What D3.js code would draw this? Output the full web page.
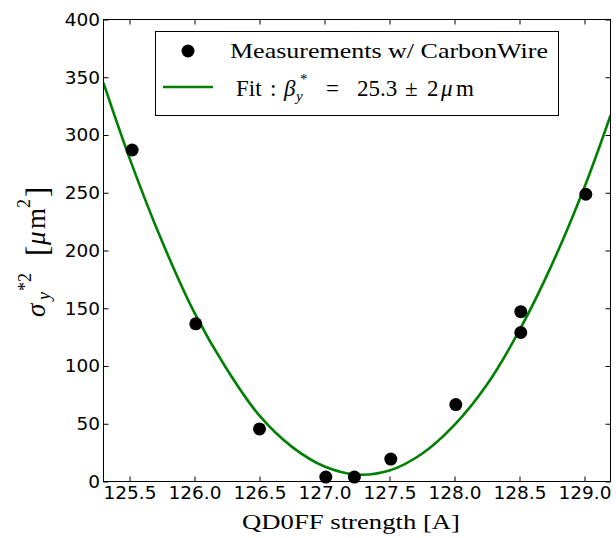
<!DOCTYPE html>
<html>
<head>
<meta charset="utf-8">
<script src="https://cdn.jsdelivr.net/npm/d3@7/dist/d3.min.js"></script>
<style>
  html, body { margin: 0; padding: 0; background: #fff; }
  svg { display: block; }
  text { white-space: pre; }
</style>
</head>
<body>
<svg id="chart" width="616" height="538"></svg>
<script>
// ---- data ----
const measX = [125.52, 126.01, 126.50, 127.01, 127.23, 127.51, 128.01, 128.51, 128.51, 129.01];
const measY = [287, 136.5, 45.5, 3.8, 3.8, 19.4, 66.6, 147, 129, 248.7];

const fitX = [125.3, 125.5, 125.75, 126.0, 126.25, 126.5, 126.75, 127.0, 127.25, 127.5, 127.75, 128.0, 128.25, 128.5, 128.75, 129.0, 129.2];
const fitY = [345, 280, 208, 146, 97, 57, 30, 13, 6, 9.5, 24, 49, 84, 131, 188, 255, 317];

const xTicks = [125.5, 126.0, 126.5, 127.0, 127.5, 128.0, 128.5, 129.0];
const xTickLabels = ["125.5", "126.0", "126.5", "127.0", "127.5", "128.0", "128.5", "129.0"];
const yTicks = [0, 50, 100, 150, 200, 250, 300, 350, 400];
const yTickLabels = ["0", "50", "100", "150", "200", "250", "300", "350", "400"];

const xDomain = [125.3, 129.2];
const yDomain = [0, 400];

// ---- layout ----
const svg = d3.select("#chart");
const X0 = 103.5, X1 = 610.5, Y0 = 19.5, Y1 = 481.5;
const x = d3.scaleLinear().domain(xDomain).range([X0, X1]);
const y = d3.scaleLinear().domain(yDomain).range([Y1, Y0]);

const serif = "'Liberation Serif', 'Times New Roman', serif";
const sans = "'DejaVu Sans', sans-serif";

svg.append("defs").append("clipPath").attr("id", "clip")
  .append("rect").attr("x", X0).attr("y", Y0).attr("width", X1 - X0).attr("height", Y1 - Y0);

// fit curve
const line = d3.line().x((d, i) => x(fitX[i])).y((d, i) => y(fitY[i])).curve(d3.curveCatmullRom.alpha(0.5));
svg.append("path")
  .attr("clip-path", "url(#clip)")
  .attr("d", line(fitX))
  .attr("fill", "none")
  .attr("stroke", "#008000")
  .attr("stroke-width", 2.6);

// measurements
svg.append("g").selectAll("circle").data(measX).join("circle")
  .attr("cx", (d, i) => x(measX[i]))
  .attr("cy", (d, i) => y(measY[i]))
  .attr("r", 6.5)
  .attr("fill", "#000");

// axes
function styleAxis(g, showLabels) {
  g.select(".domain").remove();
  g.selectAll(".tick line").attr("stroke", "#000").attr("stroke-width", 1);
  g.selectAll(".tick text")
    .attr("font-family", sans).attr("font-size", 18.5).attr("fill", "#000");
  if (!showLabels) g.selectAll(".tick text").remove();
}
const fmtX = d => xTickLabels[xTicks.indexOf(d)];
const fmtY = d => yTickLabels[yTicks.indexOf(d)];

svg.append("g").attr("transform", `translate(0,${Y1})`)
  .call(d3.axisBottom(x).tickValues(xTicks).tickFormat(fmtX).tickSize(-5).tickPadding(4))
  .call(g => styleAxis(g, true));
svg.append("g").attr("transform", `translate(0,${Y0})`)
  .call(d3.axisTop(x).tickValues(xTicks).tickSize(-5))
  .call(g => styleAxis(g, false));
svg.append("g").attr("transform", `translate(${X0},0)`)
  .call(d3.axisLeft(y).tickValues(yTicks).tickFormat(fmtY).tickSize(-5).tickPadding(3.5))
  .call(g => styleAxis(g, true));
svg.append("g").attr("transform", `translate(${X1},0)`)
  .call(d3.axisRight(y).tickValues(yTicks).tickSize(-5))
  .call(g => styleAxis(g, false));

// spines
svg.append("rect").attr("x", X0).attr("y", Y0).attr("width", X1 - X0).attr("height", Y1 - Y0)
  .attr("fill", "none").attr("stroke", "#000").attr("stroke-width", 1);

// x label
svg.append("text")
  .attr("x", 242).attr("y", 529)
  .attr("font-family", serif).attr("font-size", 22)
  .attr("textLength", 218).attr("lengthAdjust", "spacingAndGlyphs")
  .text("QD0FF strength [A]");

// y label (rotated); local x runs upward on screen
const yl = svg.append("text")
  .attr("transform", "translate(45,317) rotate(-90)")
  .attr("font-family", serif).attr("font-size", 27).attr("fill", "#000");
yl.append("tspan").attr("x", 0).attr("y", 0).attr("font-style", "italic").text("σ");
yl.append("tspan").attr("x", 17).attr("y", 5).attr("font-style", "italic").attr("font-size", 18).text("y");
yl.append("tspan").attr("x", 26).attr("y", -14).attr("font-size", 18).text("*2");
yl.append("tspan").attr("x", 61).attr("y", 3).attr("font-size", 31).text("[");
yl.append("tspan").attr("x", 72).attr("y", 0).attr("font-style", "italic").text("μ");
yl.append("tspan").attr("x", 88).attr("y", 0).text("m");
yl.append("tspan").attr("x", 109).attr("y", -15).attr("font-size", 18).text("2");
yl.append("tspan").attr("x", 120).attr("y", 3).attr("font-size", 31).text("]");

// legend
const lg = svg.append("g");
lg.append("rect").attr("x", 155.5).attr("y", 31.5).attr("width", 403).attr("height", 84)
  .attr("fill", "#fff").attr("stroke", "#000").attr("stroke-width", 1);
lg.append("circle").attr("cx", 188).attr("cy", 51).attr("r", 6.5).attr("fill", "#000");
lg.append("line").attr("x1", 163).attr("x2", 213).attr("y1", 87).attr("y2", 87)
  .attr("stroke", "#008000").attr("stroke-width", 2.6);
lg.append("text").attr("x", 230).attr("y", 58)
  .attr("font-family", serif).attr("font-size", 22)
  .attr("textLength", 318).attr("lengthAdjust", "spacingAndGlyphs")
  .text("Measurements w/ CarbonWire");
const t2 = lg.append("text")
  .attr("font-family", serif).attr("font-size", 23).attr("fill", "#000");
t2.append("tspan").attr("x", 236).attr("y", 96).text("Fit");
t2.append("tspan").attr("x", 270).attr("y", 96).text(":");
t2.append("tspan").attr("x", 284).attr("y", 96).attr("font-style", "italic").text("β");
t2.append("tspan").attr("x", 296).attr("y", 101).attr("font-style", "italic").attr("font-size", 15).text("y");
t2.append("tspan").attr("x", 300).attr("y", 84).attr("font-size", 15).text("*");
t2.append("tspan").attr("x", 326).attr("y", 96).text("=");
t2.append("tspan").attr("x", 357).attr("y", 96).text("25.3");
t2.append("tspan").attr("x", 405).attr("y", 96).text("±");
t2.append("tspan").attr("x", 427).attr("y", 96).text("2");
t2.append("tspan").attr("x", 441).attr("y", 96).attr("font-style", "italic").text("μ");
t2.append("tspan").attr("x", 456).attr("y", 96).text("m");
</script>
</body>
</html>
